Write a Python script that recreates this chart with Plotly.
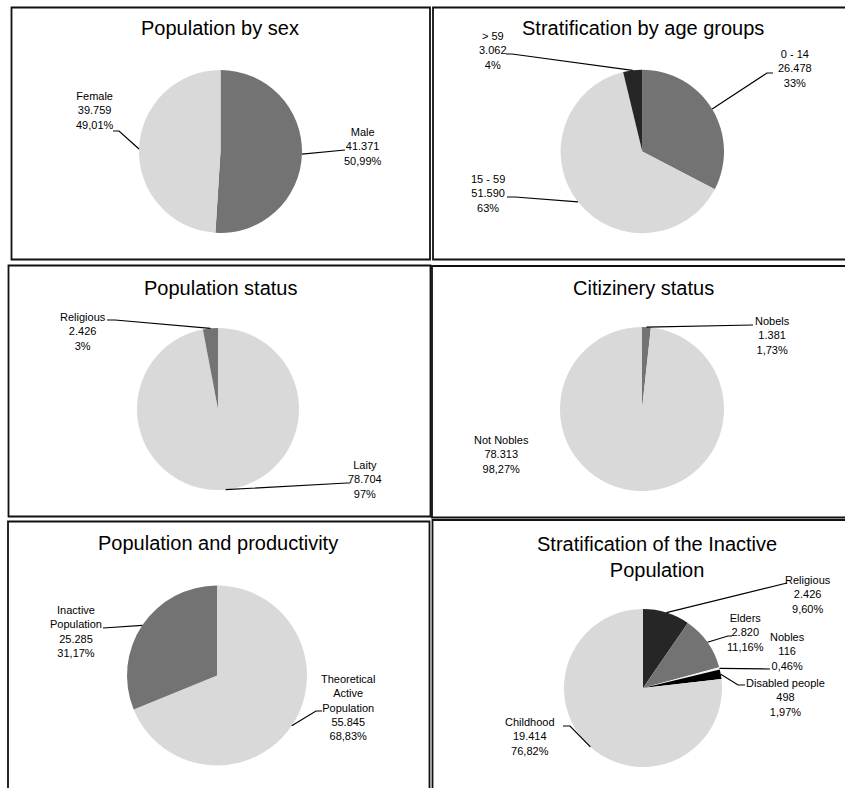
import math
import plotly.graph_objects as go

W, H = 845, 788

# ---- data -------------------------------------------------------------
sex_labels = ["Male", "Female"]
sex_values = [41371, 39759]
sex_pct = ["50,99%", "49,01%"]

age_labels = ["0 - 14", "15 - 59", "> 59"]
age_values = [26478, 51590, 3062]
age_pct = ["33%", "63%", "4%"]

status_labels = ["Laity", "Religious"]
status_values = [78704, 2426]
status_pct = ["97%", "3%"]

citizen_labels = ["Nobels", "Not Nobles"]
citizen_values = [1381, 78313]
citizen_pct = ["1,73%", "98,27%"]

prod_labels = ["Theoretical<br>Active<br>Population", "Inactive<br>Population"]
prod_values = [55845, 25285]
prod_pct = ["68,83%", "31,17%"]

inactive_labels = ["Religious", "Elders", "Nobles", "Disabled people", "Childhood"]
inactive_values = [2426, 2820, 116, 498, 19414]
inactive_pct = ["9,60%", "11,16%", "0,46%", "1,97%", "76,82%"]

titles = [
    "Population by sex",
    "Stratification by age groups",
    "Population status",
    "Citizinery status",
    "Population and productivity",
    "Stratification of the Inactive<br>Population",
]

# ---- styling / layout -------------------------------------------------
DARK = "#737373"
LIGHT = "#d9d9d9"
DARKER = "#262626"
FONT = "Liberation Sans Narrow, Arial Narrow, Liberation Sans, sans-serif"

# (center x, center y, radius) of every pie, in pixels
pies = [
    dict(labels=sex_labels, values=sex_values, pct=sex_pct,
         colors=[DARK, LIGHT], geo=(220.5, 151.5, 81.5), title=(220, 28),
         # label block centre, leader elbow, leader tail x (None = no tail)
         lab=[((363, 147), (345, 150), None), ((95, 110.5), (119, 131), 113)]),
    dict(labels=age_labels, values=age_values, pct=age_pct,
         colors=[DARK, LIGHT, DARKER], geo=(642.3, 151.5, 81.7), title=(643, 28),
         lab=[((795, 68), (767, 73), 773), ((488, 193), (515, 197), 507),
              ((493, 50), (512, 54), 506)]),
    dict(labels=status_labels, values=status_values, pct=status_pct,
         colors=[LIGHT, DARK], geo=(218, 409, 81), title=(220, 288),
         lab=[((365, 479), (347, 483), 350), ((83, 331), (115, 320), 107)]),
    dict(labels=citizen_labels, values=citizen_values, pct=citizen_pct,
         colors=[DARK, LIGHT], geo=(642, 409, 82), title=(643, 288),
         lab=[((772, 336), (753, 325), None), ((502, 454), None, None)]),
    dict(labels=prod_labels, values=prod_values, pct=prod_pct,
         colors=[LIGHT, DARK], geo=(217, 675.5, 90), title=(218, 543),
         lab=[((348, 707.5), (316, 711), 322), ((76, 631.5), (103, 628), None)]),
    dict(labels=inactive_labels, values=inactive_values, pct=inactive_pct,
         colors=[DARKER, DARK, "#f2f2f2", "#000000", LIGHT], geo=(643, 688, 79),
         title=(657, 556.5),
         lab=[((808, 594), (787, 583), None), ((745, 632), (728, 636), 732),
              ((787, 651), (770, 669), None), ((785, 697), (738, 685), 745),
              ((530, 736), (570, 726), 563)]),
]

# panel frames: x0, y0, x1, y1 in pixels
frames = [
    (11.5, 7.5, 430, 259.5),
    (433, 7.5, 850, 259.5),
    (8.5, 265.5, 430.5, 516.5),
    (432, 266, 850, 517.5),
    (8, 521.5, 429.5, 795),
    (432.5, 520, 850, 795),
]


def px(x):
    return x / W


def py(y):
    return 1 - y / H


def fmt(v):
    return f"{v:,}".replace(",", ".")


fig = go.Figure()
shapes = []
annotations = []

for (x0, y0, x1, y1) in frames:
    shapes.append(dict(type="rect", xref="paper", yref="paper",
                       x0=px(x0), x1=px(x1), y0=py(y1), y1=py(y0),
                       line=dict(color="#111111", width=1.8),
                       fillcolor="rgba(0,0,0,0)", layer="above"))

for i, p in enumerate(pies):
    cx, cy, r = p["geo"]
    fig.add_trace(go.Pie(
        labels=[l.replace("<br>", " ") for l in p["labels"]],
        values=p["values"],
        sort=False,
        direction="clockwise",
        rotation=0,
        textinfo="none",
        hoverinfo="label+value+percent",
        marker=dict(colors=p["colors"], line=dict(width=0)),
        showlegend=False,
        domain=dict(x=[px(cx - r), px(cx + r)], y=[py(cy + r), py(cy - r)]),
    ))

    tx, ty = p["title"]
    annotations.append(dict(text=titles[i], x=px(tx), y=py(ty), xref="paper",
                            yref="paper", xanchor="center", yanchor="middle",
                            showarrow=False,
                            font=dict(family=FONT, size=20, color="#000000")))

    total = sum(p["values"])
    cum = 0.0
    for j, v in enumerate(p["values"]):
        mid = (cum + v / 2) / total
        cum += v
        (lx, ly), elbow, tail = p["lab"][j]
        text = f"{p['labels'][j]}<br>{fmt(v)}<br>{p['pct'][j]}"
        annotations.append(dict(text=text, x=px(lx), y=py(ly), xref="paper",
                                yref="paper", xanchor="center", yanchor="middle",
                                align="center", showarrow=False,
                                font=dict(family=FONT, size=11, color="#000000")))
        if elbow is None:
            continue
        ang = 2 * math.pi * mid
        ex = cx + r * math.sin(ang)
        ey = cy - r * math.cos(ang)
        path = f"M {px(ex)} {py(ey)} L {px(elbow[0])} {py(elbow[1])}"
        if tail is not None:
            path += f" L {px(tail)} {py(elbow[1])}"
        shapes.append(dict(type="path", xref="paper", yref="paper", path=path,
                           line=dict(color="#000000", width=1.2)))

fig.update_layout(
    width=W, height=H,
    margin=dict(l=0, r=0, t=0, b=0),
    paper_bgcolor="#ffffff",
    plot_bgcolor="#ffffff",
    shapes=shapes,
    annotations=annotations,
    font=dict(family=FONT),
)

fig.write_html("out.html")
